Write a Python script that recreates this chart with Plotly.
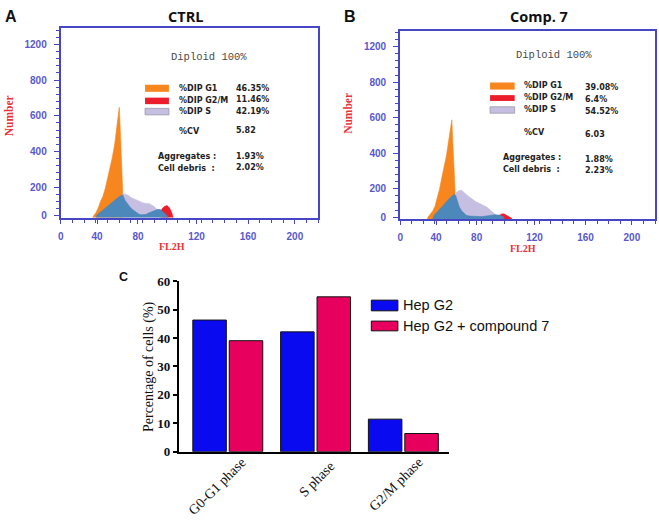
import plotly.graph_objects as go

W, H = 659, 528

# ---------------- Panel A (CTRL) flow histogram: FL2H channel vs count ----------------
a_g1_x = [26, 28, 30, 32, 34, 36, 38, 40, 42, 44, 46, 48, 49, 50, 51, 52, 53]
a_g1_y = [0, 38, 56, 82, 120, 147, 191, 245, 300, 365, 436, 545, 600, 647, 501, 311, 165]
a_s_x = [53, 54, 56, 58, 60, 62, 64, 66, 68, 70, 72, 74, 76, 78, 80, 82, 84, 85.5]
a_s_y = [165, 163, 161, 153, 142, 136, 128, 120, 114, 112, 109, 107, 106, 98, 90, 76, 65, 65]
a_g2_x = [85.5, 87, 89, 91, 93, 95, 97]
a_g2_y = [65, 82, 93, 96, 82, 54, 0]
a_ov_x = [29, 31, 33, 35, 37, 39, 41, 43, 45, 47, 49, 51, 53, 55, 57, 59, 61, 63, 65, 67,
          69, 71, 73, 75, 77, 79, 81, 83, 85, 87, 89, 91, 93]
a_ov_y = [0, 44, 54, 65, 79, 90, 101, 112, 123, 134, 142, 150, 156, 125, 104, 90, 76, 65, 54, 47,
          44, 44, 47, 54, 60, 65, 71, 75, 74, 65, 52, 38, 0]

# ---------------- Panel B (Comp. 7) flow histogram ----------------
b_g1_x = [22, 24, 26, 28, 30, 32, 34, 36, 38, 40, 42, 43, 44, 44.6, 45.5, 46.5, 47.5]
b_g1_y = [0, 40, 57, 73, 100, 144, 198, 264, 329, 389, 476, 525, 580, 588, 454, 291, 173]
b_s_x = [47.5, 49, 51, 53, 55, 57, 59, 61, 63, 65, 67, 69, 71, 73, 75, 77, 79, 81, 83, 84.5]
b_s_y = [173, 182, 190, 191, 182, 168, 157, 147, 136, 128, 122, 117, 111, 103, 95, 84, 70, 59, 50, 46]
b_g2_x = [84.5, 86, 88, 90, 92, 94, 96, 97]
b_g2_y = [46, 52, 59, 57, 50, 43, 35, 0]
b_ov_x = [27, 29, 31, 33, 35, 37, 39, 41, 43, 45, 47, 48, 49.5, 51, 53, 55, 57, 60, 65, 70,
          74, 78, 82, 86, 89, 91]
b_ov_y = [0, 48, 62, 78, 92, 106, 119, 136, 149, 160, 169, 160, 122, 98, 76, 62, 51, 46, 43, 43,
          46, 51, 54, 51, 43, 0]

hist_tick_vals = [0, 31, 66, 116, 160, 200]
hist_tick_text = ["0", "40", "80", "120", "160", "200"]
count_tick_vals = [38, 200, 400, 600, 800, 1000]
count_tick_text = ["0", "200", "400", "600", "800", "1200"]

stat_labels = ["%DIP G1", "%DIP G2/M", "%DIP S"]
a_stats = ["46.35%", "11.46%", "42.19%"]
b_stats = ["39.08%", "6.4%", "54.52%"]
a_cv, b_cv = "5.82", "6.03"
a_aggr, b_aggr = "1.93%", "1.88%"
a_debris, b_debris = "2.02%", "2.23%"

# ---------------- Panel C bar chart ----------------
phases = ["G0-G1 phase", "S phase", "G2/M phase"]
hepg2 = [46.35, 42.19, 11.46]
hepg2_c7 = [39.08, 54.52, 6.4]
series_names = ["Hep G2", "Hep G2 + compound 7"]

ORANGE = "#f7861e"
LAV = "#c6bfe2"
RED = "#ec1c2a"
STEEL = "#4d88ba"
FRAME = "#4747c6"
TICKC = "#5858cf"
AXRED = "#e8323a"
BLUE_BAR = "#0a0af0"
PINK_BAR = "#e8005e"


def PX(x):
    return x / W


def PY(y):
    return 1 - y / H


fig = go.Figure()


def add_hist(xa, ya, parts):
    for xs, ys, c in parts:
        fig.add_trace(go.Scatter(x=xs, y=ys, mode="lines", fill="tozeroy", fillcolor=c,
                                 line=dict(color=c, width=0.6), xaxis=xa, yaxis=ya,
                                 showlegend=False, hoverinfo="skip"))


add_hist("x", "y", [(a_g1_x, a_g1_y, ORANGE), (a_s_x, a_s_y, LAV),
                    (a_g2_x, a_g2_y, RED), (a_ov_x, a_ov_y, STEEL)])
add_hist("x2", "y2", [(b_g1_x, b_g1_y, ORANGE), (b_s_x, b_s_y, LAV),
                      (b_g2_x, b_g2_y, RED), (b_ov_x, b_ov_y, STEEL)])

fig.add_trace(go.Bar(x=phases, y=hepg2, name=series_names[0], marker=dict(color=BLUE_BAR, line=dict(color="#111", width=1)),
                     xaxis="x3", yaxis="y3", showlegend=False))
fig.add_trace(go.Bar(x=phases, y=hepg2_c7, name=series_names[1], marker=dict(color=PINK_BAR, line=dict(color="#111", width=1)),
                     xaxis="x3", yaxis="y3", showlegend=False))

tickfont_h = dict(family="Liberation Sans", size=10, color=TICKC, weight="bold")


def hist_xaxis(dom, anchor):
    return dict(domain=dom, range=[0, 220], anchor=anchor, showline=True, linecolor=FRAME, linewidth=2,
                mirror=True, tickmode="array", tickvals=hist_tick_vals, ticktext=hist_tick_text,
                ticks="outside", ticklen=4, tickcolor=FRAME, tickfont=tickfont_h, ticklabelstandoff=4,
                showgrid=False, zeroline=False,
                minor=dict(ticks="outside", ticklen=3, tickcolor=FRAME, tickmode="linear", tick0=0, dtick=10,
                           showgrid=False))


def hist_yaxis(dom, anchor):
    return dict(domain=dom, range=[29, 1090], anchor=anchor, showline=True, linecolor=FRAME, linewidth=2,
                mirror=True, tickmode="array", tickvals=count_tick_vals, ticktext=count_tick_text,
                ticks="outside", ticklen=5, tickcolor=FRAME, tickfont=tickfont_h, ticklabelstandoff=5,
                showgrid=False, zeroline=False,
                minor=dict(ticks="outside", ticklen=3, tickcolor=FRAME, tickmode="linear", tick0=0, dtick=40,
                           showgrid=False))


fig.update_layout(
    width=W, height=H, margin=dict(l=0, r=0, t=0, b=0),
    paper_bgcolor="white", plot_bgcolor="white",
    barmode="group", bargap=0.17, bargroupgap=0.08,
    xaxis=hist_xaxis([PX(58), PX(316.7)], "y"),
    yaxis=hist_yaxis([PY(216.7), PY(22)], "x"),
    xaxis2=hist_xaxis([PX(399), PX(655)], "y2"),
    yaxis2=hist_yaxis([PY(218.3), PY(24.3)], "x2"),
    xaxis3=dict(domain=[PX(176.7), PX(448.3)], anchor="y3", range=[-0.557, 2.523], type="category",
                showline=True, linecolor="black", linewidth=2, ticks="", showticklabels=False,
                showgrid=False, zeroline=False),
    yaxis3=dict(domain=[PY(457.7), PY(282.3)], anchor="x3", range=[0, 60], dtick=10,
                showline=True, linecolor="black", linewidth=2, ticks="outside", ticklen=4, tickwidth=2,
                tickcolor="black", tickfont=dict(family="Liberation Serif", size=13, color="#111", weight="bold"),
                showgrid=False, zeroline=False),
    showlegend=False,
)

ann = []
shapes = []


def text(x, y, t, size, family="Liberation Sans", color="#111", weight="normal", xanchor="left", angle=0):
    ann.append(dict(x=PX(x), y=PY(y), xref="paper", yref="paper", text=t, showarrow=False,
                    xanchor=xanchor, yanchor="middle", textangle=angle,
                    font=dict(family=family, size=size, color=color, weight=weight)))


def rect(x0, y0, x1, y1, fill, line="rgba(0,0,0,0)", lw=0):
    shapes.append(dict(type="rect", xref="paper", yref="paper", x0=PX(x0), x1=PX(x1), y0=PY(y1), y1=PY(y0),
                       fillcolor=fill, line=dict(color=line, width=lw)))


# panel letters and titles
text(8, 9.5, "A", 16, weight="bold", xanchor="center")
text(348.5, 9.5, "B", 16, weight="bold", xanchor="center")
text(121, 277.5, "C", 12.5, weight="bold", xanchor="center")
text(183.7, 9.5, "CTRL", 14.5, family="Open Sans", weight="bold", xanchor="center")
text(538.3, 9.5, "Comp. 7", 14.5, family="Open Sans", weight="bold", xanchor="center")

# axis titles of histograms
text(5.5, 112, "Number", 11.5, family="Liberation Serif", color=AXRED, weight="bold", xanchor="center", angle=-90)
text(346.5, 109, "Number", 11.5, family="Liberation Serif", color=AXRED, weight="bold", xanchor="center", angle=-90)
text(170, 246.7, "FL2H", 10, family="Liberation Serif", color=AXRED, weight="bold", xanchor="center")
text(522.7, 248.3, "FL2H", 10, family="Liberation Serif", color=AXRED, weight="bold", xanchor="center")


def modfit_box(label_x, val_x, sw_x, row_y, sw_rows, stats, cv, aggr, debris, dip_xy, cv_y, agg_x, agg_y, deb_y,
               cv_val_y, agg_val_y, deb_val_y):
    text(dip_xy[0], dip_xy[1], "Diploid 100%", 10.5, family="Liberation Mono", color="#4a4a4a", xanchor="center")
    cols = [ORANGE, RED, LAV]
    for i in range(3):
        y0, y1 = sw_rows[i]
        if i == 2:
            rect(sw_x[0], y0, sw_x[1], y1, cols[i], line="#9a98a8", lw=0.8)
        else:
            rect(sw_x[0], y0, sw_x[1], y1, cols[i])
        text(label_x, row_y[i][0], stat_labels[i], 8, family="DejaVu Sans", weight="bold", color="#222")
        text(val_x, row_y[i][1], stats[i], 8, family="DejaVu Sans", weight="bold", color="#222")
    text(label_x, cv_y, "%CV", 8, family="DejaVu Sans", weight="bold", color="#222")
    text(val_x, cv_val_y, cv, 8, family="DejaVu Sans", weight="bold", color="#222")
    text(agg_x, agg_y, "Aggregates :", 8, family="DejaVu Sans", weight="bold", color="#222")
    text(val_x, agg_val_y, aggr, 8, family="DejaVu Sans", weight="bold", color="#222")
    text(agg_x, deb_y, "Cell debris  :", 8, family="DejaVu Sans", weight="bold", color="#222")
    text(val_x, deb_val_y, debris, 8, family="DejaVu Sans", weight="bold", color="#222")


modfit_box(175, 232, (142.7, 166.7), [(83.7, 83.7), (96, 95), (107.7, 107.3)],
           [(80, 87.3), (93.3, 100), (104.3, 111)], a_stats, a_cv, a_aggr, a_debris,
           (206.5, 51.7), 128, 153.7, 154.3, 166.7, 127, 153.7, 165.3)
modfit_box(521, 582.3, (489.3, 514), [(81, 83), (93.3, 95.3), (105.3, 107.7)],
           [(77.7, 85), (90.7, 96.7), (102.7, 109.3)], b_stats, b_cv, b_aggr, b_debris,
           (553.3, 49.3), 129, 500.7, 155.3, 167.7, 131.7, 156.7, 168.3)

# panel C y title
text(146.7, 370.5, "Percentage of cells (%)", 14, family="Liberation Serif", color="#111", xanchor="center", angle=-90)

# panel C category labels (rotated), placed on the category axis
cat_label_shift = {"G0-G1 phase": (-10.8, -34.8), "S phase": (0.9, -27.3), "G2/M phase": (-7.3, -33.2)}
for p in phases:
    dx, dy = cat_label_shift[p]
    ann.append(dict(x=p, y=0, xref="x3", yref="y3", text=p, showarrow=False, textangle=-45,
                    xanchor="center", yanchor="middle", xshift=dx, yshift=dy,
                    font=dict(family="Liberation Serif", size=14, color="#111")))

# panel C legend
rect(370, 301.7, 396.7, 312.7, BLUE_BAR, line="#111", lw=1)
rect(370, 323.3, 396.7, 333.3, PINK_BAR, line="#111", lw=1)
text(400, 307, series_names[0], 14.5, color="#111")
text(400, 328.5, series_names[1], 14.5, color="#111")

fig.update_layout(annotations=ann, shapes=shapes)

fig.write_html("out.html", config={"displayModeBar": False, "staticPlot": True},
               post_script="document.body.style.margin='0';document.body.style.overflow='hidden';")
